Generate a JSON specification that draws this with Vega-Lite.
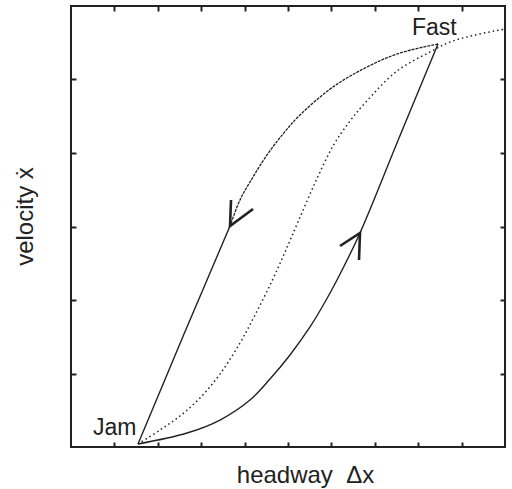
{
  "$schema": "https://vega.github.io/schema/vega-lite/v6.json",
  "autosize": {"type": "none"},
  "width": 434,
  "height": 441,
  "padding": {"left": 71, "top": 6, "right": 7, "bottom": 42},
  "background": "white",
  "config": {
    "view": {"stroke": "#222", "strokeWidth": 2},
    "axis": {"domain": false, "labels": false, "grid": false, "tickSize": -5, "tickWidth": 2, "tickColor": "#222", "titleFont": "Liberation Sans", "titleFontSize": 24, "titleFontWeight": "normal", "titleColor": "#222"}
  },
  "datasets": {
    "curves": [
      {"s": "ov", "i": 0, "x": 1.544, "y": 0.041},
      {"s": "ov", "i": 1, "x": 2.051, "y": 0.231},
      {"s": "ov", "i": 2, "x": 2.512, "y": 0.422},
      {"s": "ov", "i": 3, "x": 2.972, "y": 0.667},
      {"s": "ov", "i": 4, "x": 3.433, "y": 0.993},
      {"s": "ov", "i": 5, "x": 3.894, "y": 1.415},
      {"s": "ov", "i": 6, "x": 4.240, "y": 1.796},
      {"s": "ov", "i": 7, "x": 4.631, "y": 2.259},
      {"s": "ov", "i": 8, "x": 4.931, "y": 2.653},
      {"s": "ov", "i": 9, "x": 5.230, "y": 3.061},
      {"s": "ov", "i": 10, "x": 5.622, "y": 3.592},
      {"s": "ov", "i": 11, "x": 6.037, "y": 4.095},
      {"s": "ov", "i": 12, "x": 6.429, "y": 4.435},
      {"s": "ov", "i": 13, "x": 6.774, "y": 4.680},
      {"s": "ov", "i": 14, "x": 7.512, "y": 5.116},
      {"s": "ov", "i": 15, "x": 8.272, "y": 5.374},
      {"s": "ov", "i": 16, "x": 8.733, "y": 5.510},
      {"s": "ov", "i": 17, "x": 9.309, "y": 5.605},
      {"s": "ov", "i": 18, "x": 10.0, "y": 5.687},
      {"s": "dec1", "i": 0, "x": 8.456, "y": 5.483},
      {"s": "dec1", "i": 1, "x": 7.581, "y": 5.361},
      {"s": "dec1", "i": 2, "x": 6.820, "y": 5.170},
      {"s": "dec1", "i": 3, "x": 6.037, "y": 4.898},
      {"s": "dec1", "i": 4, "x": 5.276, "y": 4.517},
      {"s": "dec1", "i": 5, "x": 4.885, "y": 4.259},
      {"s": "dec1", "i": 6, "x": 4.516, "y": 3.973},
      {"s": "dec1", "i": 7, "x": 4.194, "y": 3.673},
      {"s": "dec1", "i": 8, "x": 3.894, "y": 3.361},
      {"s": "dec1", "i": 9, "x": 3.664, "y": 3.007},
      {"s": "dec2", "i": 0, "x": 3.664, "y": 3.007},
      {"s": "dec2", "i": 1, "x": 3.134, "y": 2.272},
      {"s": "dec2", "i": 2, "x": 2.604, "y": 1.537},
      {"s": "dec2", "i": 3, "x": 2.074, "y": 0.789},
      {"s": "dec2", "i": 4, "x": 1.544, "y": 0.041},
      {"s": "acc", "i": 0, "x": 1.544, "y": 0.041},
      {"s": "acc", "i": 1, "x": 2.673, "y": 0.190},
      {"s": "acc", "i": 2, "x": 3.433, "y": 0.367},
      {"s": "acc", "i": 3, "x": 4.124, "y": 0.639},
      {"s": "acc", "i": 4, "x": 4.585, "y": 0.925},
      {"s": "acc", "i": 5, "x": 5.046, "y": 1.252},
      {"s": "acc", "i": 6, "x": 5.507, "y": 1.633},
      {"s": "acc", "i": 7, "x": 5.853, "y": 1.973},
      {"s": "acc", "i": 8, "x": 6.129, "y": 2.272},
      {"s": "acc", "i": 9, "x": 6.659, "y": 2.912},
      {"s": "acc", "i": 10, "x": 7.558, "y": 4.204},
      {"s": "acc", "i": 11, "x": 8.456, "y": 5.483},
      {"s": "arrow1", "i": 0, "x": 3.687, "y": 3.361},
      {"s": "arrow1", "i": 1, "x": 3.664, "y": 3.007},
      {"s": "arrow1", "i": 2, "x": 4.194, "y": 3.238},
      {"s": "arrow2", "i": 0, "x": 6.636, "y": 2.544},
      {"s": "arrow2", "i": 1, "x": 6.659, "y": 2.912},
      {"s": "arrow2", "i": 2, "x": 6.198, "y": 2.735}
    ],
    "labels": [
      {"label": "Fast", "x": 7.857, "y": 5.605},
      {"label": "Jam", "x": 0.507, "y": 0.163}
    ]
  },
  "layer": [
    {
      "data": {"name": "curves"},
      "transform": [{"filter": "datum.s == 'ov'"}],
      "mark": {"type": "line", "color": "#222", "strokeWidth": 1.5, "strokeDash": [1.5, 3], "interpolate": "catmull-rom", "clip": true},
      "encoding": {
        "x": {"field": "x", "type": "quantitative", "scale": {"domain": [0, 10], "nice": false, "zero": false},
              "axis": {"orient": "bottom", "values": [1,2,3,4,5,6,7,8,9], "title": "headway\u00a0\u00a0Δx", "titleX": 234, "titleY": 35, "titleBaseline": "alphabetic", "titleAlign": "center"}},
        "y": {"field": "y", "type": "quantitative", "scale": {"domain": [0, 6], "nice": false, "zero": false},
              "axis": {"orient": "left", "values": [1,2,3,4,5], "title": "velocity ẋ", "titleX": -39, "titleY": 210, "titleAngle": -90, "titleBaseline": "alphabetic", "titleAlign": "center"}},
        "order": {"field": "i", "type": "quantitative"}
      }
    },
    {
      "data": {"name": "curves"},
      "transform": [{"filter": "datum.s == 'dec1'"}],
      "mark": {"type": "line", "color": "#222", "strokeWidth": 1.3, "strokeDash": [3, 1], "interpolate": "catmull-rom"},
      "encoding": {
        "x": {"field": "x", "type": "quantitative", "axis": {"orient": "top", "values": [1,2,3,4,5,6,7,8,9], "title": ""}},
        "y": {"field": "y", "type": "quantitative", "axis": {"orient": "right", "values": [1,2,3,4,5], "title": ""}},
        "order": {"field": "i", "type": "quantitative"}
      }
    },
    {
      "data": {"name": "curves"},
      "transform": [{"filter": "datum.s == 'acc'"}],
      "mark": {"type": "line", "color": "#222", "strokeWidth": 1.4, "interpolate": "catmull-rom"},
      "encoding": {
        "x": {"field": "x", "type": "quantitative", "axis": null},
        "y": {"field": "y", "type": "quantitative", "axis": null},
        "order": {"field": "i", "type": "quantitative"}
      }
    },
    {
      "data": {"name": "curves"},
      "transform": [{"filter": "datum.s == 'dec2'"}],
      "mark": {"type": "line", "color": "#222", "strokeWidth": 1.4},
      "encoding": {
        "x": {"field": "x", "type": "quantitative", "axis": null},
        "y": {"field": "y", "type": "quantitative", "axis": null},
        "order": {"field": "i", "type": "quantitative"}
      }
    },
    {
      "data": {"name": "curves"},
      "transform": [{"filter": "datum.s == 'arrow1' || datum.s == 'arrow2'"}],
      "mark": {"type": "line", "color": "#222", "strokeWidth": 2.6, "strokeJoin": "miter"},
      "encoding": {
        "x": {"field": "x", "type": "quantitative", "axis": null},
        "y": {"field": "y", "type": "quantitative", "axis": null},
        "detail": {"field": "s"},
        "order": {"field": "i", "type": "quantitative"}
      }
    },
    {
      "data": {"name": "labels"},
      "mark": {"type": "text", "font": "Liberation Sans", "fontSize": 23, "color": "#222", "align": "left", "baseline": "alphabetic"},
      "encoding": {
        "x": {"field": "x", "type": "quantitative", "axis": null},
        "y": {"field": "y", "type": "quantitative", "axis": null},
        "text": {"field": "label"}
      }
    }
  ],
  "resolve": {"axis": {"x": "independent", "y": "independent"}}
}
